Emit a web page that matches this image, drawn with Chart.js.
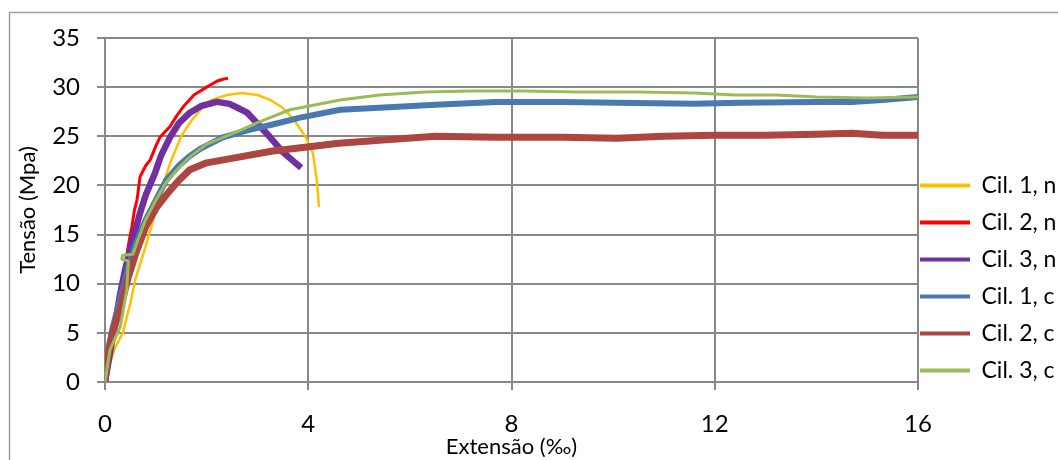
<!DOCTYPE html>
<html>
<head>
<meta charset="utf-8">
<script src="https://cdn.jsdelivr.net/npm/chart.js@4"></script>
<style>
    body { margin: 0; background: #fff; overflow: hidden; }
    canvas { display: block; }
</style>
</head>
<body>
<canvas id="stressChart" width="1058" height="460"></canvas>
<script>
// legend labels and colours
const seriesLabels = ['Cil. 1, n', 'Cil. 2, n', 'Cil. 3, n', 'Cil. 1, c', 'Cil. 2, c', 'Cil. 3, c'];
const seriesColors = ['#FFC000', '#FF0000', '#7030A0', '#4A78B0', '#AD4540', '#9BBB59'];

// axis ticks
const xTicks = [0, 4, 8, 12, 16];
const yTicks = [0, 5, 10, 15, 20, 25, 30, 35];

// Cil. 1, n
const c1nX = [0, 0.1, 0.2, 0.35, 0.5, 0.6, 0.8, 0.95, 1.1, 1.3, 1.5, 1.7, 1.9, 2.1, 2.4, 2.7, 3.0, 3.25, 3.5, 3.7, 3.85, 3.98, 4.09, 4.11, 4.17, 4.21];
const c1nY = [0, 2, 3.5, 5, 8, 10.5, 13.8, 16.5, 19.5, 22.5, 25, 26.6, 27.8, 28.7, 29.2, 29.4, 29.2, 28.7, 27.9, 26.8, 25.7, 24.6, 23.3, 22.6, 20.5, 17.8];

// Cil. 2, n
const c2nX = [0, 0.05, 0.1, 0.2, 0.3, 0.4, 0.48, 0.53, 0.58, 0.63, 0.69, 0.8, 0.89, 1.0, 1.08, 1.28, 1.4, 1.54, 1.75, 2.0, 2.2, 2.32, 2.42];
const c2nY = [0, 2.5, 4.5, 6.5, 9, 12, 14.5, 15.8, 17.5, 18.5, 20.9, 22, 22.6, 24, 24.9, 26, 27, 28, 29.2, 30, 30.6, 30.8, 30.9];

// Cil. 3, n
const c3nX = [0, 0.1, 0.2, 0.3, 0.4, 0.49, 0.6, 0.69, 0.8, 0.98, 1.1, 1.28, 1.45, 1.67, 1.9, 2.2, 2.45, 2.65, 2.8, 3.0, 3.25, 3.5, 3.7, 3.86];
const c3nY = [0, 3, 6, 9, 11.5, 13.4, 15.5, 17.2, 19, 21.2, 23, 24.9, 26.3, 27.4, 28.1, 28.5, 28.3, 27.8, 27.4, 26.3, 24.9, 23.4, 22.5, 21.8];

// Cil. 1, c
const c1cX = [0, 0.05, 0.15, 0.3, 0.45, 0.6, 0.8, 1.0, 1.2, 1.45, 1.67, 1.9, 2.32, 2.8, 3.38, 3.84, 4.63, 5.4, 6.5, 7.7, 9.0, 10.06, 11.6, 12.5, 13.96, 14.7, 15.3, 16];
const c1cY = [0, 3, 5.5, 8.5, 11.5, 14, 16.5, 18.5, 20.5, 22, 23, 23.8, 24.9, 25.6, 26.3, 26.9, 27.7, 27.9, 28.2, 28.5, 28.5, 28.4, 28.3, 28.4, 28.5, 28.5, 28.7, 29.0];

// Cil. 2, c
const c2cX = [0, 0.05, 0.15, 0.3, 0.45, 0.6, 0.8, 1.02, 1.2, 1.45, 1.67, 2.0, 2.66, 3.3, 3.98, 4.6, 5.4, 6.5, 7.7, 9.0, 10.06, 11.0, 12.0, 13.0, 14.0, 14.7, 15.3, 16];
const c2cY = [0, 2.5, 5, 7.5, 10.5, 13, 15.8, 17.8, 19, 20.5, 21.6, 22.3, 22.9, 23.5, 23.9, 24.3, 24.6, 25, 24.9, 24.9, 24.8, 25, 25.1, 25.1, 25.2, 25.3, 25.1, 25.1];

// Cil. 3, c
const c3cX = [0, 0.1, 0.3, 0.43, 0.46, 0.33, 0.35, 0.55, 0.65, 0.8, 1.0, 1.2, 1.45, 1.67, 2.0, 2.66, 3.0, 3.64, 4.63, 5.4, 6.3, 7.2, 8.2, 9.3, 10.5, 11.6, 12.4, 13.2, 14.0, 15.0, 16];
const c3cY = [0, 3.3, 5.6, 9.4, 12.3, 12.5, 12.9, 13, 14.5, 16.5, 18.5, 20.3, 21.8, 22.9, 24.2, 25.6, 26.4, 27.7, 28.7, 29.2, 29.5, 29.6, 29.6, 29.5, 29.5, 29.4, 29.2, 29.2, 29.0, 28.9, 29.0];

const seriesX = [c1nX, c2nX, c3nX, c1cX, c2cX, c3cX];
const seriesY = [c1nY, c2nY, c3nY, c1cY, c2cY, c3cY];
const lineWidths = [2.5, 3, 6.5, 6, 7, 3];

function points(xs, ys) {
    return xs.map((x, i) => ({ x: x, y: ys[i] }));
}

const tickFont = { family: 'Lato', size: 24 };
const titleFont = { family: 'Lato', size: 22 };
const gridColor = '#888888';

// frame round the whole chart (only left/top edges are visible)
const chartFrame = {
    id: 'chartFrame',
    beforeDraw(chart) {
        const ctx = chart.ctx;
        ctx.save();
        ctx.strokeStyle = '#a0a0a0';
        ctx.lineWidth = 1.5;
        ctx.beginPath();
        ctx.moveTo(9.5, chart.height);
        ctx.lineTo(9.5, 12.5);
        ctx.lineTo(chart.width, 12.5);
        ctx.stroke();
        ctx.restore();
    }
};

// put the legend right next to the plot and lower down, like Excel does
const legendPlace = {
    id: 'legendPlace',
    afterLayout(chart) {
        const lg = chart.legend;
        lg.left = chart.chartArea.right + 2 - 14;
        lg.top = 160;
    }
};

const ctx = document.getElementById('stressChart').getContext('2d');
new Chart(ctx, {
    type: 'line',
    data: {
        datasets: seriesLabels.map((label, i) => ({
            label: label,
            data: points(seriesX[i], seriesY[i]),
            borderColor: seriesColors[i],
            backgroundColor: seriesColors[i],
            borderWidth: lineWidths[i],
            borderJoinStyle: 'round',
            pointRadius: 0,
            fill: false,
            tension: 0,
            order: seriesLabels.length - 1 - i
        }))
    },
    options: {
        responsive: false,
        animation: false,
        layout: { padding: { left: 15, top: 38, right: 0, bottom: 0 } },
        scales: {
            x: {
                type: 'linear',
                min: 0,
                max: 16,
                afterBuildTicks: scale => { scale.ticks = xTicks.map(v => ({ value: v })); },
                afterFit: scale => { scale.height = 78; },
                ticks: { font: tickFont, color: '#000', padding: 20, maxRotation: 0 },
                grid: { color: gridColor, lineWidth: 2, tickLength: 8 },
                border: { color: gridColor, width: 2 },
                title: { display: true, text: 'Extensão (‰)', font: titleFont, color: '#000', padding: { top: 0, bottom: 0 } }
            },
            y: {
                min: 0,
                max: 35,
                afterBuildTicks: scale => { scale.ticks = yTicks.map(v => ({ value: v })); },
                afterFit: scale => { scale.width = 90; },
                ticks: { font: tickFont, color: '#000', padding: 17 },
                grid: { color: gridColor, lineWidth: 2, tickLength: 8 },
                border: { color: gridColor, width: 2 },
                title: { display: true, text: 'Tensão (Mpa)', font: titleFont, color: '#000', padding: { top: 0, bottom: 0 } }
            }
        },
        plugins: {
            legend: {
                display: true,
                position: 'right',
                align: 'start',
                maxWidth: 140,
                labels: {
                    font: { family: 'Lato', size: 23 },
                    color: '#000',
                    usePointStyle: true,
                    pointStyleWidth: 50,
                    padding: 14,
                    sort: (a, b) => a.datasetIndex - b.datasetIndex,
                    generateLabels: chart => {
                        const items = Chart.defaults.plugins.legend.labels.generateLabels(chart);
                        items.forEach(it => { it.pointStyle = 'line'; it.lineWidth = 4; });
                        return items;
                    }
                }
            },
            tooltip: { enabled: false }
        }
    },
    plugins: [chartFrame, legendPlace]
});
</script>
</body>
</html>
